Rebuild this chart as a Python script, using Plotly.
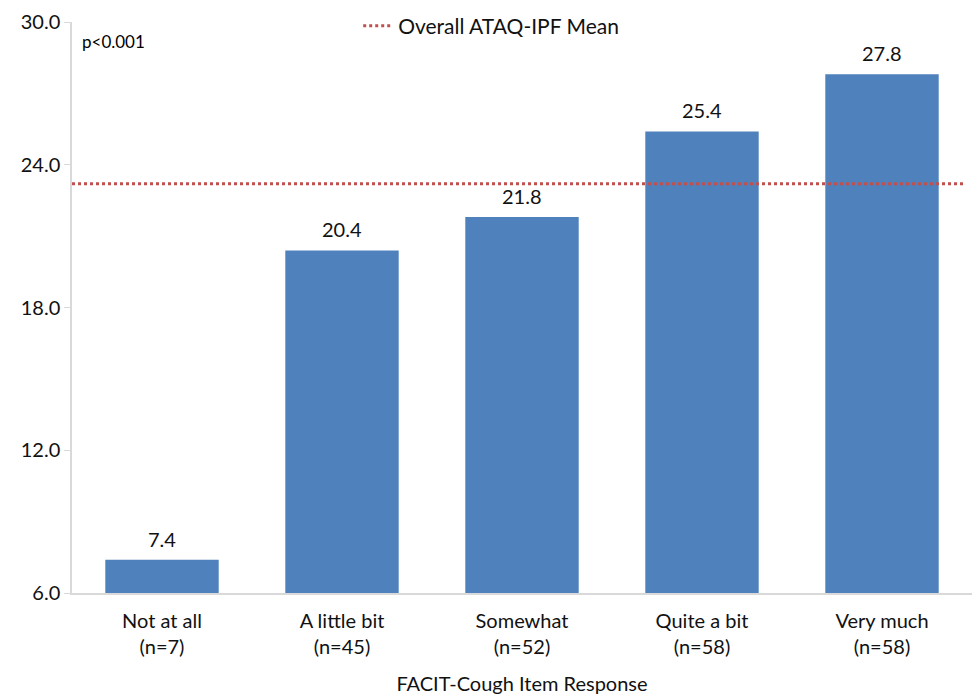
import plotly.graph_objects as go

# Mean ATAQ-IPF score by FACIT-Cough item response
categories = ["Not at all<br>(n=7)", "A little bit<br>(n=45)", "Somewhat<br>(n=52)",
              "Quite a bit<br>(n=58)", "Very much<br>(n=58)"]
means = [7.4, 20.4, 21.8, 25.4, 27.8]
overall_mean = 23.2
y_ticks = [6, 12, 18, 24, 30]

FONT = "Lato, Open Sans, sans-serif"

fig = go.Figure()

fig.add_trace(go.Bar(
    x=categories, y=means,
    marker=dict(color="#4F81BD", line=dict(width=0)),
    showlegend=False,
))

# Reference line for the overall mean, drawn on a hidden 0-1 axis so it spans the plot
fig.add_trace(go.Scatter(
    x=[0, 0.99], y=[overall_mean, overall_mean],
    xaxis="x2", mode="lines",
    line=dict(color="#C0504D", width=3, dash="dot"),
    name="Overall ATAQ-IPF Mean",
))

# Value labels above each bar
value_labels = [
    dict(x=c, y=v, xref="x", yref="y", text=f"{v:.1f}", showarrow=False,
         yanchor="bottom", yshift=7, font=dict(size=20, color="#111111", family=FONT))
    for c, v in zip(categories, means)
]

fig.update_layout(
    width=974, height=695,
    margin=dict(l=72, r=2, t=22, b=102),
    paper_bgcolor="white", plot_bgcolor="white",
    font=dict(family=FONT, size=20, color="#111111"),
    bargap=0.37,
    xaxis=dict(
        showgrid=False, showline=True, linecolor="#D9D9D9", linewidth=1.5,
        ticks="", tickfont=dict(size=20, color="#111111"), ticklabelstandoff=9,
        title=dict(text="FACIT-Cough Item Response", font=dict(size=20), standoff=20),
    ),
    xaxis2=dict(overlaying="x", range=[0, 1], visible=False),
    yaxis=dict(
        range=[6, 30], tickvals=y_ticks, tickformat=".1f",
        showgrid=False, showline=True, linecolor="#D9D9D9", linewidth=1.5,
        ticks="outside", ticklen=6, tickcolor="#D9D9D9",
        tickfont=dict(size=20, color="#111111"), zeroline=False,
    ),
    legend=dict(
        x=0.318, xanchor="left", y=0.993, yanchor="middle",
        orientation="h", bgcolor="rgba(0,0,0,0)",
        font=dict(size=21, color="#111111"),
    ),
    annotations=value_labels + [dict(
        text="p<0.001", xref="paper", yref="paper", x=0.009, y=0.988,
        xanchor="left", yanchor="top", showarrow=False,
        font=dict(size=17, color="#000000", family=FONT),
    )],
)

fig.write_html("out.html")
